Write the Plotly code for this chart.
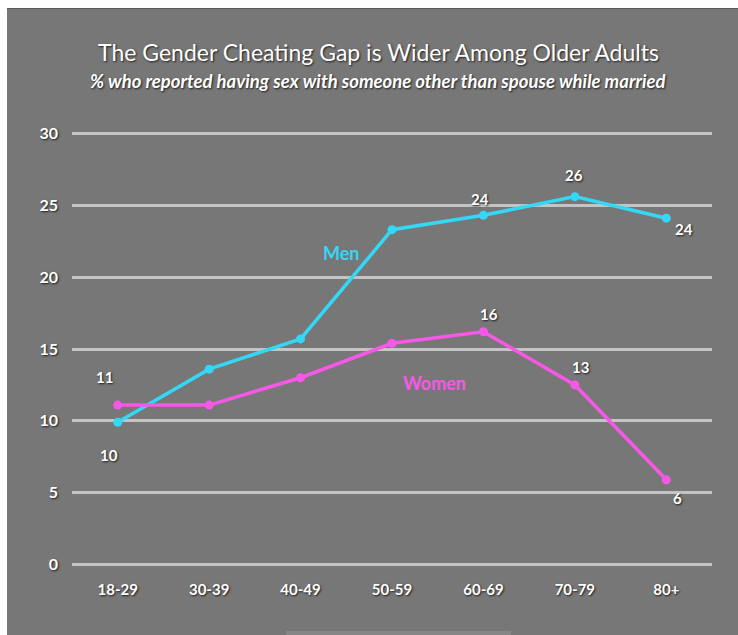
import plotly.graph_objects as go

categories = ["18-29", "30-39", "40-49", "50-59", "60-69", "70-79", "80+"]
men = [9.9, 13.6, 15.7, 23.3, 24.3, 25.6, 24.1]
women = [11.1, 11.1, 13.0, 15.4, 16.2, 12.5, 5.9]
y_ticks = [0, 5, 10, 15, 20, 25, 30]

# which points carry a value label, with pixel offsets (dx, dy up)
men_labels = {0: (-9, -33), 4: (-3, 16), 5: (-1, 22), 6: (18, -11)}
women_labels = {0: (-13, 28), 4: (6, 18), 5: (6, 18), 6: (11, -18)}

BG = "#777777"
CYAN = "#33d8f7"
MAGENTA = "#f857e8"
FONT = "Lato"
SHADOW = "1px 1px 2px #1e1e1e"

W, H = 738, 635
L, R, T, B = 72, 26, 119, 56
pw, ph = W - L - R, H - T - B

def px_x(p):
    return (p - L) / pw

def px_y(p):
    return (H - B - p) / ph

fig = go.Figure()
xs = list(range(len(categories)))
fig.add_trace(go.Scatter(x=xs, y=men, mode="lines+markers",
                         line=dict(color=CYAN, width=3.5),
                         marker=dict(color=CYAN, size=9),
                         cliponaxis=False, showlegend=False, hoverinfo="skip"))
fig.add_trace(go.Scatter(x=xs, y=women, mode="lines+markers",
                         line=dict(color=MAGENTA, width=3.5),
                         marker=dict(color=MAGENTA, size=9),
                         cliponaxis=False, showlegend=False, hoverinfo="skip"))

annos = []
for series, labels in ((men, men_labels), (women, women_labels)):
    for i, (dx, dy) in labels.items():
        annos.append(dict(x=i, y=series[i], xref="x", yref="y",
                          text=str(int(series[i] + 0.5)), showarrow=False,
                          xshift=dx, yshift=dy, xanchor="center", yanchor="middle",
                          font=dict(family=FONT, size=15, color="white",
                                    weight="bold", shadow=SHADOW)))

def paper_text(x, y, text, font):
    return dict(x=px_x(x), y=px_y(y), xref="paper", yref="paper", text=text,
                showarrow=False, xanchor="center", yanchor="middle", font=font)

annos.append(paper_text(341, 253, "Men",
                        dict(family=FONT, size=18, color=CYAN, weight="bold")))
annos.append(paper_text(434, 383, "Women",
                        dict(family=FONT, size=18, color=MAGENTA, weight="bold")))
annos.append(paper_text(378, 52, "The Gender Cheating Gap is Wider Among Older Adults",
                        dict(family=FONT, size=23, color="white", shadow=SHADOW)))
annos.append(paper_text(378, 81,
                        "% who reported having sex with someone other than spouse while married",
                        dict(family=FONT, size=18.5, color="white", style="italic",
                             weight="bold", shadow=SHADOW)))

shapes = [
    # white strips outside the gray panel (left and top)
    dict(type="rect", xref="paper", yref="paper", x0=px_x(-2), x1=px_x(7),
         y0=px_y(H + 2), y1=px_y(-2), fillcolor="white", line_width=0, layer="above"),
    dict(type="rect", xref="paper", yref="paper", x0=px_x(-2), x1=px_x(W + 2),
         y0=px_y(8), y1=px_y(-2), fillcolor="white", line_width=0, layer="above"),
    dict(type="line", xref="paper", yref="paper", x0=px_x(7), x1=px_x(W),
         y0=px_y(8.5), y1=px_y(8.5), line=dict(color="#5a5a5a", width=1)),
    # faint bar at the bottom
    dict(type="rect", xref="paper", yref="paper", x0=px_x(286), x1=px_x(511),
         y0=px_y(636), y1=px_y(631), fillcolor="#868686", line_width=0),
]

fig.update_layout(
    width=W, height=H,
    margin=dict(l=L, r=R, t=T, b=B, pad=0),
    paper_bgcolor=BG, plot_bgcolor=BG,
    annotations=annos, shapes=shapes,
    xaxis=dict(range=[-0.5, 6.5], tickvals=xs, ticktext=categories,
               showgrid=False, zeroline=False, showline=False, ticks="",
               tickfont=dict(family=FONT, size=15, color="white", weight="bold",
                             shadow=SHADOW),
               fixedrange=True),
    yaxis=dict(range=[-1, 31], tickvals=y_ticks,
               showgrid=True, gridcolor="#c4c4c4", gridwidth=3,
               zeroline=False, showline=False, ticks="",
               ticklabelstandoff=13,
               tickfont=dict(family=FONT, size=16, color="white", weight="bold",
                             shadow=SHADOW),
               fixedrange=True),
)

fig.write_html("out.html", config={"displayModeBar": False},
               post_script="document.body.style.margin='0';"
                           "document.documentElement.style.overflow='hidden';")
